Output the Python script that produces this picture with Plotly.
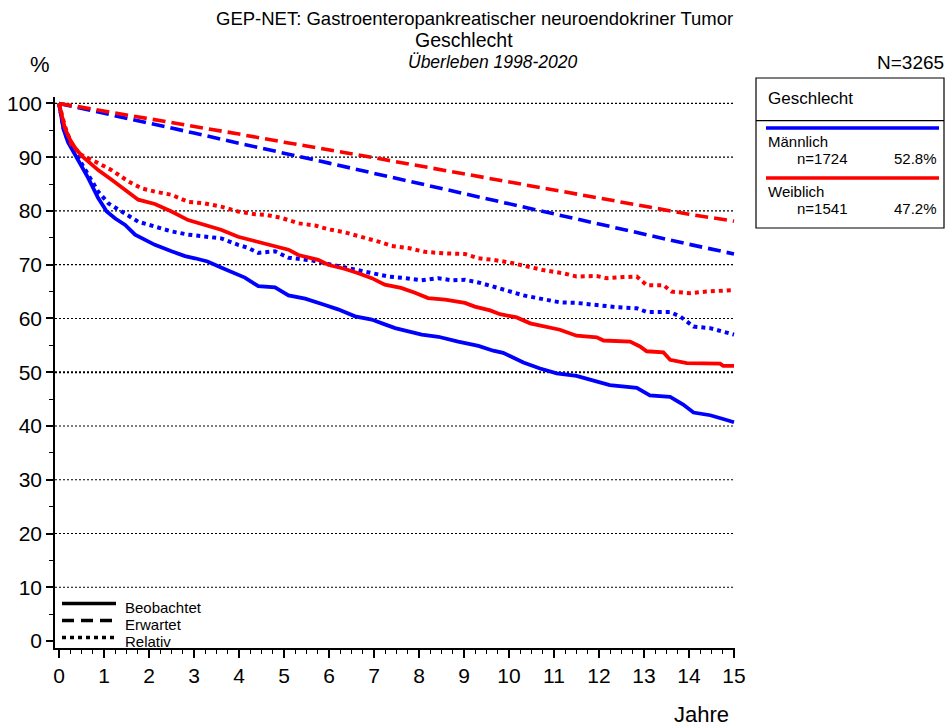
import plotly.graph_objects as go

# ---------------- data ----------------
years_ticks = list(range(0, 16))
y_ticks = list(range(0, 101, 10))

# Männlich – beobachtet
t_m_obs = [0, 0.05, 0.1, 0.2, 0.36, 0.5, 0.65, 0.87, 1.06, 1.25, 1.47, 1.69, 1.9, 2.13, 2.5, 2.8,
           3.02, 3.3, 3.6, 3.98, 4.13, 4.43, 4.8, 5.1, 5.47, 5.91, 6.2, 6.58, 6.95, 7.24, 7.47,
           8.06, 8.43, 8.87, 9.32, 9.65, 9.87, 10.1, 10.32, 10.69, 11.06, 11.5, 11.8, 12.24,
           12.84, 13.13, 13.58, 13.87, 14.1, 14.47, 14.76, 15.0]
v_m_obs = [100, 97.0, 95.2, 92.8, 90.4, 88.2, 86.1, 82.4, 79.9, 78.6, 77.4, 75.6, 74.6, 73.7, 72.5, 71.6,
           71.2, 70.6, 69.5, 68.1, 67.6, 66.0, 65.8, 64.3, 63.7, 62.5, 61.7, 60.4, 59.8, 58.9, 58.2,
           57.0, 56.6, 55.7, 54.9, 54.0, 53.6, 52.7, 51.8, 50.7, 49.8, 49.3, 48.6, 47.6,
           47.1, 45.7, 45.4, 44.0, 42.5, 42.0, 41.3, 40.7]

# Weiblich – beobachtet
t_w_obs = [0, 0.06, 0.13, 0.25, 0.36, 0.5, 0.65, 0.87, 1.17, 1.47, 1.76, 2.13, 2.5, 2.87, 3.24, 3.6,
           3.98, 4.36, 4.72, 5.1, 5.32, 5.76, 5.98, 6.36, 6.65, 6.95, 7.24, 7.6, 7.91, 8.2, 8.58,
           9.02, 9.24, 9.58, 9.8, 10.17, 10.47, 10.84, 11.13, 11.5, 11.95, 12.1, 12.69, 12.91,
           13.06, 13.43, 13.58, 13.95, 14.69, 14.76, 15.0]
v_w_obs = [100, 97.9, 95.4, 93.2, 91.7, 90.3, 89.2, 87.6, 85.8, 83.9, 82.1, 81.3, 79.9, 78.3, 77.4, 76.5,
           75.2, 74.4, 73.7, 72.8, 71.8, 70.9, 70.0, 69.2, 68.4, 67.5, 66.3, 65.7, 64.8, 63.8, 63.5,
           62.9, 62.2, 61.5, 60.8, 60.2, 59.1, 58.4, 57.9, 56.8, 56.5, 55.9, 55.7, 54.8,
           53.9, 53.7, 52.3, 51.7, 51.6, 51.2, 51.2]

# Männlich – relativ
t_m_rel = [0, 0.05, 0.1, 0.2, 0.36, 0.58, 0.87, 1.1, 1.4, 1.76, 2.13, 2.5, 2.87, 3.24, 3.6, 3.98,
           4.21, 4.43, 4.8, 5.1, 5.62, 6.06, 6.58, 6.95, 7.32, 7.69, 8.06, 8.43, 8.73, 9.02, 9.32,
           9.62, 9.95, 10.32, 10.69, 11.13, 11.5, 11.95, 12.39, 12.84, 13.06, 13.58, 13.8, 14.1,
           14.47, 14.91, 15.0]
v_m_rel = [100, 97.1, 95.4, 93.1, 90.8, 88.0, 83.6, 81.4, 79.9, 78.0, 77.1, 76.2, 75.6, 75.2, 74.9, 73.7,
           73.1, 72.2, 72.5, 71.3, 70.8, 70.0, 69.1, 68.6, 67.8, 67.5, 67.1, 67.5, 67.1, 67.2, 66.7,
           66.0, 65.2, 64.3, 63.7, 63.0, 62.9, 62.4, 62.1, 61.9, 61.2, 61.2, 60.4, 58.5,
           58.2, 57.2, 57.0]

# Weiblich – relativ
t_w_rel = [0, 0.06, 0.13, 0.28, 0.5, 0.8, 1.17, 1.54, 1.84, 2.13, 2.5, 2.87, 3.24, 3.6, 3.98, 4.36,
           4.58, 4.95, 5.32, 5.69, 5.98, 6.36, 6.73, 7.1, 7.39, 7.76, 8.13, 8.58, 9.02, 9.32, 9.65,
           10.02, 10.39, 10.76, 11.21, 11.5, 11.95, 12.17, 12.54, 12.84, 13.06, 13.43, 13.61,
           14.02, 14.39, 15.0]
v_w_rel = [100, 98.0, 95.8, 92.3, 90.4, 89.2, 87.6, 85.5, 84.2, 83.6, 83.0, 81.7, 81.4, 80.8, 79.9, 79.4,
           79.3, 78.7, 77.7, 77.3, 76.6, 76.0, 75.2, 74.3, 73.5, 73.1, 72.4, 72.1, 72.0, 71.2, 70.9,
           70.4, 69.7, 69.0, 68.4, 67.8, 67.9, 67.5, 67.7, 67.8, 66.2, 66.2, 65.0,
           64.7, 65.0, 65.3]

# Erwartet
t_exp = list(range(0, 16))
v_m_exp = [100, 98.2, 96.3, 94.5, 92.6, 90.8, 88.9, 87.0, 85.1, 83.2, 81.3, 79.4, 77.5, 75.6, 73.8, 72.0]
v_w_exp = [100, 98.6, 97.2, 95.7, 94.3, 92.8, 91.4, 89.9, 88.4, 86.9, 85.4, 83.9, 82.3, 80.8, 79.4, 78.1]

groups = ["Männlich", "Weiblich"]
group_n = ["n=1724", "n=1541"]
group_pct = ["52.8%", "47.2%"]
line_types = ["Beobachtet", "Erwartet", "Relativ"]

# ---------------- styling ----------------
BLUE = "#0000FF"
RED = "#FF0000"
FONT = "Liberation Sans, Arial, sans-serif"
W_SOLID, W_DASH, W_DOT = 3.8, 3.6, 4
DASH = "13px,6px"
DOT = "4px,4px"

# plot area in pixels
L, R, T, B = 55, 735, 97, 648
PW, PH = R - L, B - T


def px(x):
    return (x - L) / PW


def py(y):
    return (B - y) / PH


fig = go.Figure()

series = [
    (t_exp, v_m_exp, BLUE, DASH, W_DASH),
    (t_m_rel, v_m_rel, BLUE, DOT, W_DOT),
    (t_m_obs, v_m_obs, BLUE, "solid", W_SOLID),
    (t_exp, v_w_exp, RED, DASH, W_DASH),
    (t_w_rel, v_w_rel, RED, DOT, W_DOT),
    (t_w_obs, v_w_obs, RED, "solid", W_SOLID),
]
for xs, ys, col, dash, w in series:
    fig.add_trace(go.Scatter(x=xs, y=ys, mode="lines",
                             line=dict(color=col, width=w, dash=dash),
                             showlegend=False, hoverinfo="skip"))

shapes = []
# dotted gridlines
for v in y_ticks[1:]:
    shapes.append(dict(type="line", xref="x", yref="y", x0=-0.089, x1=15.02, y0=v, y1=v,
                       line=dict(color="#000000", width=2 if v == 50 else 1.2,
                                 dash="2px,2px"), layer="below"))

# legend box (right)
shapes.append(dict(type="rect", xref="paper", yref="paper",
                   x0=px(756), x1=px(944), y0=py(228), y1=py(78),
                   line=dict(color="#000000", width=1.2)))
shapes.append(dict(type="line", xref="paper", yref="paper",
                   x0=px(756), x1=px(944), y0=py(120.7), y1=py(120.7),
                   line=dict(color="#000000", width=1.2)))
for yy, col in [(128, BLUE), (178, RED)]:
    shapes.append(dict(type="line", xref="paper", yref="paper",
                       x0=px(766), x1=px(939), y0=py(yy), y1=py(yy),
                       line=dict(color=col, width=3.5)))

# line type legend (bottom left)
for yy, dash in [(603.5, "solid"), (620.5, "12px,7px"), (637.5, "4px,4px")]:
    shapes.append(dict(type="line", xref="paper", yref="paper",
                       x0=px(62), x1=px(116), y0=py(yy), y1=py(yy),
                       line=dict(color="#000000", width=3.5, dash=dash)))

annotations = []


def ann(text, x, y, size, xanchor="center", italic=False):
    if italic:
        text = "<i>" + text + "</i>"
    annotations.append(dict(text=text, x=px(x), y=py(y), xref="paper", yref="paper",
                            xanchor=xanchor, yanchor="middle", showarrow=False,
                            font=dict(family=FONT, size=size, color="#000000")))


ann("GEP-NET: Gastroenteropankreatischer neuroendokriner Tumor", 474, 19, 18.5)
ann("Geschlecht", 464, 40, 19.5)
ann("Überleben 1998-2020", 493, 62, 17.5, italic=True)
ann("%", 40, 65, 22)
ann("N=3265", 946, 62, 19, xanchor="right")
ann("Jahre", 701, 714, 22)

# right legend texts
ann("Geschlecht", 766, 98, 17, xanchor="left")
for i, (g, n, p) in enumerate(zip(groups, group_n, group_pct)):
    base = 141.5 + i * 50
    ann(g, 766, base, 15, xanchor="left")
    ann(n, 795, base + 17, 15, xanchor="left")
    ann(p, 939, base + 17, 15, xanchor="right")

# bottom-left legend texts
for i, lt in enumerate(line_types):
    ann(lt, 123, 607 + i * 17, 15, xanchor="left")

fig.update_layout(
    width=949, height=728,
    margin=dict(l=L, r=949 - R, t=T, b=728 - B, pad=0, autoexpand=False),
    paper_bgcolor="white", plot_bgcolor="white",
    shapes=shapes, annotations=annotations,
    font=dict(family=FONT, color="#000000"),
    xaxis=dict(range=[-0.089, 15.022], tickmode="array", tickvals=years_ticks,
               ticktext=[str(v) for v in years_ticks], automargin=False,
               showgrid=False, zeroline=False, showline=True, linecolor="#000000", linewidth=1.5,
               ticks="outside", ticklen=8, tickwidth=1.5, tickcolor="#000000",
               tickfont=dict(family=FONT, size=21),
               minor=dict(dtick=0.25, tick0=0, ticks="outside", ticklen=4, tickwidth=1.2,
                          tickcolor="#000000", showgrid=False)),
    yaxis=dict(range=[-1.3, 101.2], tickmode="array", tickvals=y_ticks,
               ticktext=[str(v) for v in y_ticks], automargin=False,
               showgrid=False, zeroline=False, showline=True, linecolor="#000000", linewidth=1.5,
               ticks="outside", ticklen=7, tickwidth=1.5, tickcolor="#000000",
               tickfont=dict(family=FONT, size=21),
               minor=dict(dtick=5, tick0=0, ticks="outside", ticklen=4, tickwidth=1.2,
                          tickcolor="#000000", showgrid=False)),
)

fig.write_html("out.html")
